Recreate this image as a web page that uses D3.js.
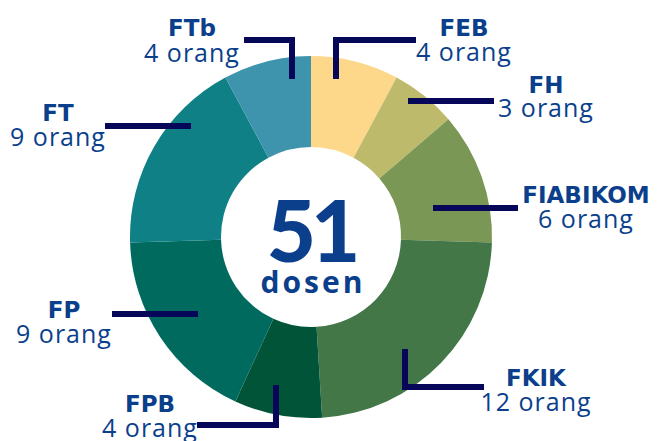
<!DOCTYPE html>
<html lang="id">
<head>
<meta charset="utf-8">
<title>Dosen per fakultas</title>
<script src="https://cdn.jsdelivr.net/npm/d3@7"></script>
<style>
  body { margin: 0; background: #fff; }
  svg { display: block; }
  text { font-family: "Open Sans", sans-serif; fill: #0b3f8c; }
</style>
</head>
<body>
<script>
// data
var faculties = ["FEB", "FH", "FIABIKOM", "FKIK", "FPB", "FP", "FT", "FTb"];
var counts    = [4, 3, 6, 12, 4, 9, 9, 4];
var colors    = ["#fdd78a", "#bdba6c", "#7a9755", "#437748", "#015438", "#006a5f", "#0f8085", "#3e93ad"];
var total = 51, unit = "dosen", countSuffix = " orang";

var w = 659, h = 441;
var cx = 311, cy = 237, outerR = 181, innerR = 90;

// label layout: leader line points, label x, name baseline, count baseline
var layout = {
  FEB:      { line: [[336,76],[336,40],[413,40]],  x: 464, y1: 36,  y2: 61 },
  FH:       { line: [[411,101],[491,101]],         x: 546, y1: 93,  y2: 117 },
  FIABIKOM: { line: [[436,208],[515,208]],         x: 586, y1: 203, y2: 228 },
  FKIK:     { line: [[405,352],[405,387],[481,387]], x: 536, y1: 386, y2: 411 },
  FPB:      { line: [[276,388],[276,425],[200,425]], x: 150, y1: 412, y2: 437 },
  FP:       { line: [[195,314],[115,314]],         x: 64,  y1: 318, y2: 343 },
  FT:       { line: [[188,126],[108,126]],         x: 58,  y1: 121, y2: 146 },
  FTb:      { line: [[292,76],[292,40],[247,40]],  x: 192, y1: 36,  y2: 62 }
};

var svg = d3.select("body").append("svg")
  .attr("width", w).attr("height", h);

var pie = d3.pie().sort(null).value(function(d) { return d; });
var arc = d3.arc().innerRadius(innerR).outerRadius(outerR);
var color = d3.scaleOrdinal().domain(faculties).range(colors);

var g = svg.append("g").attr("transform", "translate(" + cx + "," + cy + ")");
g.selectAll("path")
  .data(pie(counts))
  .enter().append("path")
  .attr("d", arc)
  .attr("fill", function(d, i) { return color(faculties[i]); });

// center
g.append("text")
  .attr("text-anchor", "middle")
  .attr("y", 25)
  .style("font-family", "Lato, sans-serif")
  .style("font-weight", 900)
  .style("font-size", "85px")
  .style("letter-spacing", "-5px")
  .text(total);
g.append("text")
  .attr("text-anchor", "middle")
  .attr("x", 2)
  .attr("y", 56)
  .style("font-weight", 700)
  .style("font-size", "30px")
  .style("letter-spacing", "3px")
  .text(unit);

// leaders and labels
var line = d3.line();
faculties.forEach(function(f, i) {
  var L = layout[f];
  svg.append("path")
    .attr("d", line(L.line))
    .attr("fill", "none")
    .attr("stroke", "#07075a")
    .attr("stroke-width", 6)
    .attr("stroke-linejoin", "miter")
    .attr("stroke-linecap", "square");
  svg.append("text")
    .attr("x", L.x).attr("y", L.y1)
    .attr("text-anchor", "middle")
    .style("font-family", "'DejaVu Sans', sans-serif")
    .style("font-weight", 700)
    .style("font-size", "23px")
    .text(f);
  svg.append("text")
    .attr("x", L.x).attr("y", L.y2)
    .attr("text-anchor", "middle")
    .style("font-weight", 500)
    .style("font-size", "25px")
    .style("letter-spacing", "1px")
    .text(counts[i] + countSuffix);
});
</script>
</body>
</html>
